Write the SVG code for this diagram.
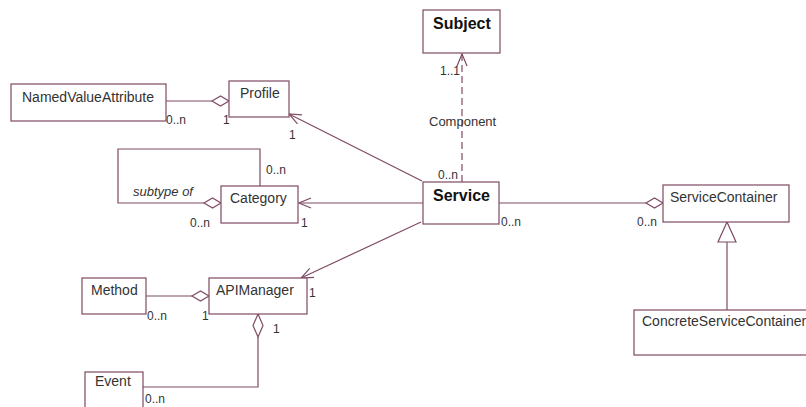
<svg xmlns="http://www.w3.org/2000/svg" width="806" height="407" viewBox="0 0 806 407">
<style>
.box{fill:#fff;stroke:#7f4a63;stroke-width:1.2}
.ln{fill:none;stroke:#7f4a63;stroke-width:1.2}
.dash{fill:none;stroke:#7f4a63;stroke-width:1.2;stroke-dasharray:7 4}
.dia{fill:#fff;stroke:#7f4a63;stroke-width:1.2}
.t{font-family:"Liberation Sans",Arial,sans-serif;font-size:14px;fill:#333}
.b{font-family:"Liberation Sans",Arial,sans-serif;font-size:16px;font-weight:bold;fill:#111}
.m{font-family:"Liberation Sans",Arial,sans-serif;font-size:12px;fill:#333}
.s{font-family:"Liberation Sans",Arial,sans-serif;font-size:13px;fill:#333}
.i{font-style:italic}
</style>
<defs>
<marker id="open" markerWidth="14" markerHeight="12" refX="13" refY="6" orient="auto" markerUnits="userSpaceOnUse">
<path d="M1,1 L13,6 L1,11" fill="none" stroke="#7f4a63" stroke-width="1.2"/>
</marker>
</defs>
<rect width="806" height="407" fill="#fff"/>
<g id="connectors">
<line class="ln" x1="166" y1="101" x2="212" y2="101"/>
<path class="dia" d="M212,101 L220.5,96 L229,101 L220.5,106 Z"/>
<polyline class="ln" points="260,186 260,149 118,149 118,203 204,203"/>
<path class="dia" d="M204,203 L212.5,198 L221,203 L212.5,208 Z"/>
<line class="ln" x1="422" y1="181" x2="289" y2="114" marker-end="url(#open)"/>
<line class="ln" x1="423" y1="203" x2="299" y2="203" marker-end="url(#open)"/>
<line class="ln" x1="421" y1="222" x2="301" y2="278" marker-end="url(#open)"/>
<line class="dash" x1="462" y1="182" x2="462" y2="54" marker-end="url(#open)"/>
<line class="ln" x1="499" y1="203" x2="646" y2="203"/>
<path class="dia" d="M646,203 L654.5,198 L663,203 L654.5,208 Z"/>
<line class="ln" x1="146" y1="296" x2="192" y2="296"/>
<path class="dia" d="M192,296 L200.5,291 L209,296 L200.5,301 Z"/>
<polyline class="ln" points="143,387 258,387 258,337"/>
<path class="dia" d="M258,314 L263,325.5 L258,337 L253,325.5 Z"/>
<line class="ln" x1="727" y1="242" x2="727" y2="310"/>
<path class="dia" d="M727,222 L736,242 L718,242 Z"/>
<text class="m" x="166" y="124">0..n</text>
<text class="m" x="223" y="124">1</text>
<text class="m" x="289" y="139">1</text>
<text class="m" x="266" y="174">0..n</text>
<text class="s i" x="133" y="196">subtype of</text>
<text class="m" x="190" y="227">0..n</text>
<text class="m" x="301" y="227">1</text>
<text class="m" x="440" y="75">1..1</text>
<text class="s" x="429" y="126">Component</text>
<text class="m" x="438" y="179">0..n</text>
<text class="m" x="501" y="226">0..n</text>
<text class="m" x="637" y="226">0..n</text>
<text class="m" x="147" y="320">0..n</text>
<text class="m" x="202" y="320">1</text>
<text class="m" x="309" y="297">1</text>
<text class="m" x="273" y="333">1</text>
<text class="m" x="145" y="403">0..n</text>
</g>
<g id="NamedValueAttribute"><rect class="box" x="11" y="84" width="155" height="37"/><text class="t" x="22" y="102">NamedValueAttribute</text></g>
<g id="Profile"><rect class="box" x="229" y="81" width="60" height="36"/><text class="t" x="240" y="98">Profile</text></g>
<g id="Category"><rect class="box" x="221" y="186" width="77" height="37"/><text class="t" x="230" y="203">Category</text></g>
<g id="Subject"><rect class="box" x="423" y="10" width="77" height="43"/><text class="b" x="433" y="29">Subject</text></g>
<g id="Service"><rect class="box" x="423" y="182" width="76" height="42"/><text class="b" x="433" y="201">Service</text></g>
<g id="ServiceContainer"><rect class="box" x="663" y="185" width="126" height="37"/><text class="t" x="670" y="202">ServiceContainer</text></g>
<g id="ConcreteServiceContainer"><rect class="box" x="634" y="310" width="180" height="45"/><text class="t" x="642" y="326">ConcreteServiceContainer</text></g>
<g id="Method"><rect class="box" x="82" y="278" width="64" height="36"/><text class="t" x="91" y="295">Method</text></g>
<g id="APIManager"><rect class="box" x="209" y="278" width="98" height="36"/><text class="t" x="216" y="295">APIManager</text></g>
<g id="Event"><rect class="box" x="85" y="372" width="58" height="40"/><text class="t" x="95" y="386">Event</text></g>
</svg>
